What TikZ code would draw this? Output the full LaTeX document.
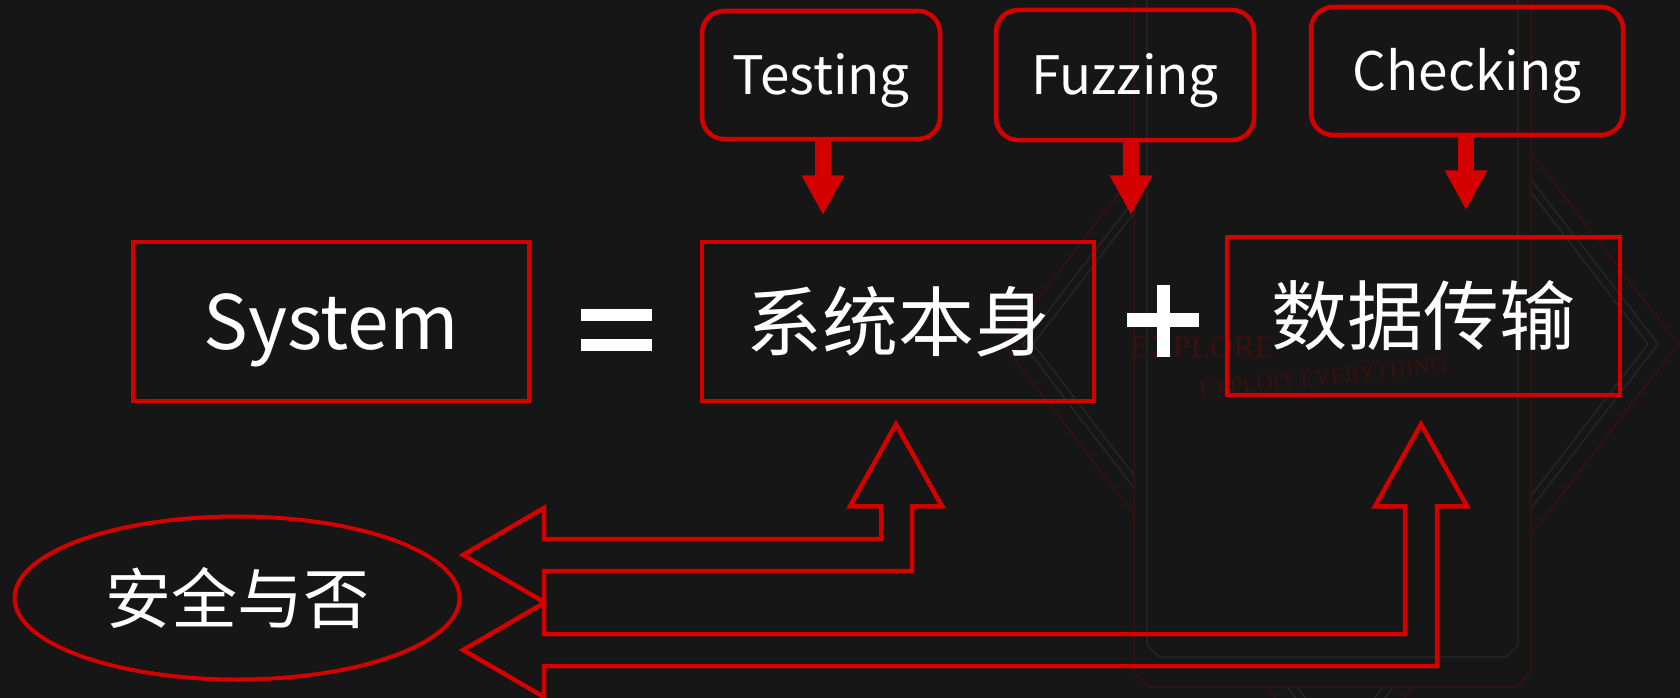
\documentclass[tikz,border=0pt]{standalone}
\usepackage{fontspec}
\setmainfont{Noto Sans CJK SC}
\newfontfamily\cardfont{Liberation Serif}
\usetikzlibrary{arrows.meta,calc,shapes.geometric}

\definecolor{bg}{RGB}{22,22,22}
\definecolor{hot}{RGB}{212,0,0}
\definecolor{faintred}{RGB}{58,17,17}
\definecolor{faintgray}{RGB}{40,40,40}

\tikzset{
  sqbox/.style={draw=hot, line width=4.5pt, text=white, inner sep=0pt},
  tagbox/.style={draw=hot, line width=4.5pt, rounded corners=22pt, text=white,
    inner sep=0pt, font=\fontsize{53}{53}\selectfont, text height=39pt, text depth=0pt},
  pointer/.style={draw=hot, line width=16pt,
    -{Triangle[length=40pt,width=40pt]}},
  hollowarrow/.style={draw=hot, line width=4.5pt, line join=miter},
  bigcjk/.style={font=\fontsize{76}{76}\selectfont},
  cardred/.style={draw=faintred, line width=1.5pt},
  cardgray/.style={draw=faintgray, line width=1.2pt},
}

\begin{document}
\begin{tikzpicture}[x=1pt,y=-1pt]
  % canvas
  \fill[bg] (0,0) rectangle (1680,698);
  \useasboundingbox (0,0) rectangle (1680,698);

  % faint playing-card artwork behind the right half
  \draw[cardred] (1003,344) -- (1340,-94) -- (1678,344) -- (1340,782) -- cycle;
  \draw[cardgray] (1023,344) -- (1340,-68) -- (1658,344) -- (1340,756) -- cycle;
  \draw[cardgray] (1033,344) -- (1340,-55) -- (1648,344) -- (1340,743) -- cycle;
  \fill[bg] (1134,-5) -- (1134,672) -- (1149,687) -- (1516,687) -- (1531,672) -- (1531,-5) -- cycle;
  \draw[cardred] (1134,-5) -- (1134,672) -- (1149,687) -- (1516,687) -- (1531,672) -- (1531,-5);
  \draw[cardgray] (1147,-5) -- (1147,645) -- (1159,657) -- (1506,657) -- (1518,645) -- (1518,-5);
  \node[text=faintred, font=\cardfont\fontsize{32}{32}\selectfont, anchor=base west, inner sep=0pt]
    (motto) at (1130,357) {EXPLORE};
  \node[text=faintred, font=\cardfont\fontsize{23}{23}\selectfont, anchor=base west, inner sep=0pt,
        rotate=6] (motto2) at (1200,398) {EXPLOIT EVERYTHING};

  % main equation
  \node[sqbox, minimum width=396pt, minimum height=159pt,
        font=\fontsize{75}{75}\selectfont, text height=55pt, text depth=0pt]
        (sys) at (331,321.5) {System};
  \node[sqbox, bigcjk, minimum width=392pt, minimum height=159pt] (self) at (898,321.5) {系统本身};
  \node[sqbox, bigcjk, minimum width=393pt, minimum height=158pt] (data) at (1423.5,316) {数据传输};

  % "=" and "+" signs
  \fill[white] (581,309) rectangle (652,321);
  \fill[white] (581,339) rectangle (652,351);
  \fill[white] (1127,313) rectangle (1199,327);
  \fill[white] (1157,285) rectangle (1170,357);

  % method tags with pointers
  \node[tagbox, minimum width=238pt, minimum height=128pt] (test) at (821,75) {Testing};
  \node[tagbox, minimum width=258pt, minimum height=130pt] (fuzz) at (1125,75) {Fuzzing};
  \node[tagbox, minimum width=312pt, minimum height=128pt] (check) at (1467,71) {Checking};

  \coordinate (testend) at ($(test.south)+(2,74)$);
  \coordinate (fuzzend) at ($(fuzz.south)+(6,73)$);
  \coordinate (checkend) at ($(check.south)+(-1,73)$);
  \draw[pointer] ($(test.south)+(2,0)$) -- (testend);
  \draw[pointer] ($(fuzz.south)+(6,0)$) -- (fuzzend);
  \draw[pointer] ($(check.south)+(-1,0)$) -- (checkend);

  % verdict
  \node[ellipse, draw=hot, line width=4pt, minimum width=445pt, minimum height=163pt,
        inner sep=0pt, text=white, font=\fontsize{66}{66}\selectfont]
        (safety) at (237,598) {安全与否};

  % hollow block arrows linking both parts to the verdict
  \coordinate (upA) at ($(self.south)+(-2,21)$);
  \coordinate (leftA) at ($(safety.east)+(1.5,-43)$);
  \coordinate (upB) at ($(data.south)+(-2.5,27)$);
  \coordinate (leftB) at ($(safety.east)+(1.5,52)$);

  \draw[hollowarrow] let \p1=(upA), \p2=(leftA) in
    (\x1,\y1) -- (\x1+46pt,\y1-82pt) -- (\x1+16pt,\y1-82pt) -- (\x1+16pt,\y2-16pt)
    -- (\x2+81pt,\y2-16pt) -- (\x2+81pt,\y2-47pt) -- (\x2,\y2)
    -- (\x2+81pt,\y2+47pt) -- (\x2+81pt,\y2+16pt) -- (\x1-15pt,\y2+16pt)
    -- (\x1-15pt,\y1-82pt) -- (\x1-46pt,\y1-82pt) -- cycle;
  \draw[hollowarrow] let \p1=(upB), \p2=(leftB) in
    (\x1,\y1) -- (\x1+46pt,\y1-82pt) -- (\x1+16pt,\y1-82pt) -- (\x1+16pt,\y2-16pt)
    -- (\x2+81pt,\y2-16pt) -- (\x2+81pt,\y2-47pt) -- (\x2,\y2)
    -- (\x2+81pt,\y2+47pt) -- (\x2+81pt,\y2+16pt) -- (\x1-16pt,\y2+16pt)
    -- (\x1-16pt,\y1-82pt) -- (\x1-46pt,\y1-82pt) -- cycle;
\end{tikzpicture}
\end{document}
